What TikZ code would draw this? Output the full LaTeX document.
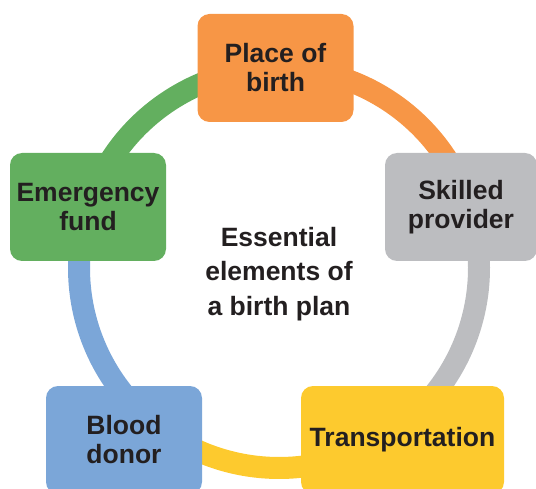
\documentclass[tikz,border=0pt]{standalone}
\usepackage{fontspec}
\setmainfont{Liberation Sans}
\usetikzlibrary{calc,backgrounds}
\definecolor{placeC}{HTML}{F79646}
\definecolor{skilledC}{HTML}{BCBDC0}
\definecolor{transportC}{HTML}{FDCA2E}
\definecolor{bloodC}{HTML}{7BA6D8}
\definecolor{fundC}{HTML}{63AF5F}
\definecolor{inkC}{HTML}{231F20}
\tikzset{
  stage/.style={rectangle, rounded corners=12pt, minimum width=156pt,
    minimum height=108pt, inner sep=0pt, align=center, text=inkC,
    font=\fontsize{26.5}{29}\selectfont\bfseries},
  ring/.style={line width=22pt}
}
\begin{document}
\begin{tikzpicture}[x=1pt,y=1pt]
  \useasboundingbox (0,0) rectangle (536,488);
  \clip (0,0) rectangle (536,488);
  \coordinate (hub) at (279,220);
  % the five elements
  \node[stage, fill=placeC] (place) at (275.5,420) {Place of\\birth};
  \node[stage, fill=skilledC, minimum width=152pt] (skilled) at (461,281) {Skilled\\provider};
  \node[stage, fill=transportC, minimum width=203pt] (transport) at (402.5,48) {Transportation};
  \node[stage, fill=bloodC] (blood) at (124,48) {Blood\\donor};
  \node[stage, fill=fundC] (fund) at (88,281) {Emergency\\fund};
  \node[align=center, text=inkC, font=\fontsize{26.5}{34.5}\selectfont\bfseries]
    (plan) at (279,214) {Essential\\elements of\\a birth plan};
  % ring behind the boxes
  \begin{scope}[on background layer]
    \foreach \from/\to/\col in {place/skilled/placeC, skilled/transport/skilledC,
        transport/blood/transportC, blood/fund/bloodC, fund/place/fundC}
      \draw[ring, \col] let \p1=($(\from)-(hub)$), \p2=($(\to)-(hub)$),
          \n1={atan2(\y1,\x1)}, \n2={\n1-mod(\n1-atan2(\y2,\x2)+360,360)} in
        ($(hub)+(\n1:200)$) arc[start angle=\n1, end angle=\n2, radius=200];
  \end{scope}
\end{tikzpicture}
\end{document}
